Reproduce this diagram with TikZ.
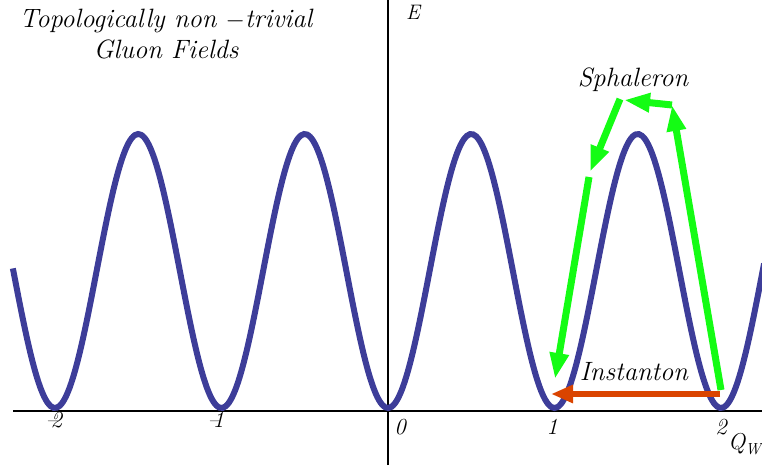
\documentclass[tikz,border=0pt]{standalone}
\usepackage{xcolor}
\usetikzlibrary{arrows.meta}

\definecolor{curveblue}{RGB}{61,61,153}
\definecolor{sphgreen}{RGB}{20,252,20}
\definecolor{instorange}{RGB}{218,68,0}

\begin{document}
\begin{tikzpicture}[
    x=1pt, y=1pt,
    lbl/.style={inner sep=0pt, font=\itshape\fontsize{26.5}{31}\selectfont, align=center},
    ticklbl/.style={inner sep=0pt, anchor=base, font=\itshape\fontsize{23}{26}\selectfont},
    axis/.style={line width=2.6pt},
    pot/.style={curveblue, line width=6pt},
    sph/.style={sphgreen, line width=7pt, -{Triangle[length=26pt,width=18pt]}},
    inst/.style={instorange, line width=6.5pt, -{Triangle[length=22pt,width=17pt]}}
]
    \useasboundingbox (0,0) rectangle (762,468);

    % axes
    \draw[axis] (13,57) -- (762,57);
    \draw[axis] (388,3) -- (388,468);

    % periodic potential
    \begin{scope}[shift={(388,60)}, x=166.5pt, y=274pt]
        \draw[pot] plot[domain=-2.253:2.26, samples=241, smooth] (\x,{(1-cos(360*\x))/2});
    \end{scope}

    % labels
    \node[lbl, anchor=north] (title) at (166,459) {Topologically non $-$trivial\\Gluon Fields};
    \node[lbl, anchor=base] (sphal) at (633,381) {Sphaleron};
    \node[lbl, anchor=base] (inst) at (634,87) {Instanton};
    \node[ticklbl, font=\itshape\fontsize{21}{26}\selectfont] (elbl) at (413,448) {E};
    \node[ticklbl] (tm2) at (54,41) {--\kern-0.3em2};
    \node[ticklbl] (tm1) at (216,41) {--\kern-0.3em1};
    \node[ticklbl] (t0) at (400,33) {0};
    \node[ticklbl] (t1) at (552,34) {1};
    \node[ticklbl] (t2) at (721,34) {2};
    \node[ticklbl, anchor=base west] (qw) at (728,19) {Q{\fontsize{16}{18}\selectfont\raisebox{-5pt}{W}}};

    % sphaleron path
    \coordinate (s0) at (721,78);
    \coordinate (s1) at (672,363);
    \coordinate (s2) at (624,368);
    \coordinate (s3) at (620,369);
    \coordinate (s4) at (590,296);
    \coordinate (s5) at (589,291);
    \coordinate (s6) at (555,89);
    \draw[sph] (s0) -- (s1);
    \draw[sph] (s1) -- (s2);
    \draw[sph] (s3) -- (s4);
    \draw[sph] (s5) -- (s6);

    % instanton path
    \coordinate (i0) at (720,74);
    \coordinate (i1) at (551,74);
    \draw[inst] (i0) -- (i1);
\end{tikzpicture}
\end{document}
